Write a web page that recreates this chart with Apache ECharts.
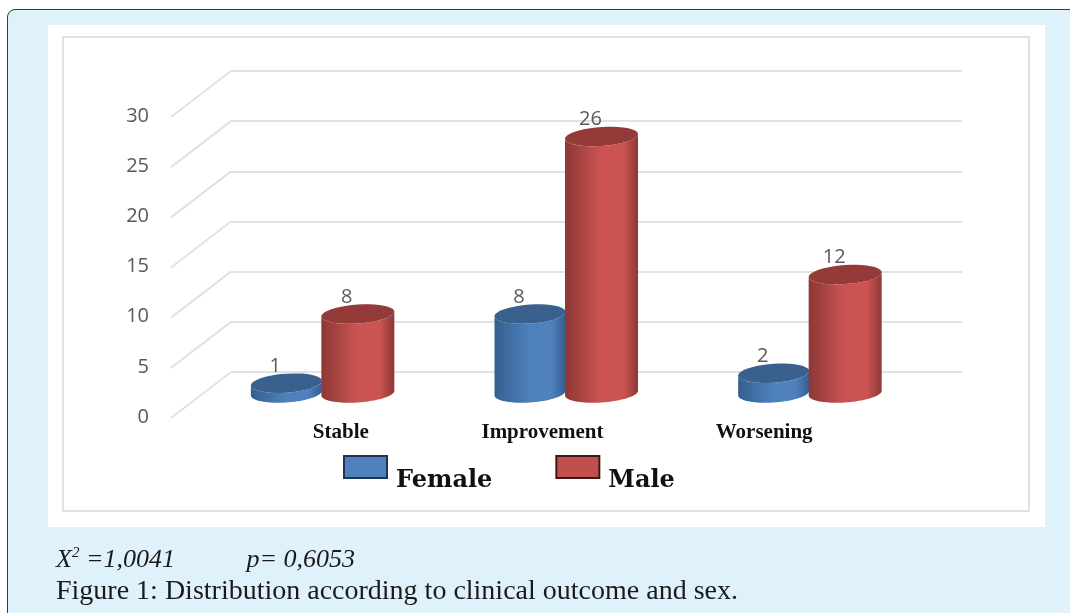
<!DOCTYPE html>
<html>
<head>
<meta charset="UTF-8">
<title>Figure 1</title>
<style type="text/css">
    html, body { margin:0; padding:0; width:1070px; height:613px; overflow:hidden; background:#fff; }
    #panel { position:absolute; left:7px; top:9px; width:1080px; height:640px; background:#dff1fb; border:1.5px solid #3a3a3a; border-radius:8px; box-sizing:border-box; }
    #sheet { position:absolute; left:48px; top:25px; width:997px; height:502px; background:#fff; }
    #frame { position:absolute; left:62px; top:36px; width:968px; height:476px; border:2px solid #e2e2e2; box-sizing:border-box; }
    #main1 { position:absolute; left:0; top:0; width:1070px; height:613px; }
    .note { position:absolute; left:56px; font-family:"Liberation Serif",serif; color:#1a1a1a; white-space:pre; }
    #stat { top:544px; font-size:26px; font-style:italic; }
    #stat sup { font-size:15px; line-height:0; }
    #caption { top:574px; font-size:28px; }
</style>
</head>
<body>
<div id="panel"></div>
<div id="sheet"></div>
<div id="frame"></div>
<div id="main1"></div>
<div class="note" id="stat">X<sup>2</sup> =1,0041           p= 0,6053</div>
<div class="note" id="caption">Figure 1: Distribution according to clinical outcome and sex.</div>
<script type="text/javascript" src="https://cdn.jsdelivr.net/npm/echarts@6/dist/echarts.min.js"></script>
<script type="text/javascript">
    var categories = ['Stable', 'Improvement', 'Worsening'];
    var female = [1, 8, 2];
    var male = [8, 26, 12];
    var yTicks = [0, 5, 10, 15, 20, 25, 30];

    // the labels do not sit under their bars in the picture, so each one is nudged with rich padding
    var labelStyles = {
        Stable: { padding: [0, 0, 0, 38] },
        Improvement: { padding: [0, 46, 0, 0] },
        Worsening: { padding: [0, 90, 0, 0] }
    };
    var richStyles = {};
    categories.forEach(function (c) {
        richStyles[c] = {
            padding: labelStyles[c].padding,
            fontFamily: 'Liberation Serif',
            fontWeight: 'bold',
            fontSize: 21,
            color: '#111'
        };
    });

    function ellipsePoints(cx, cy, rx, ry, from, to) {
        var pts = [];
        for (var i = 0; i <= 40; i++) {
            var t = from + (to - from) * i / 40;
            var dx = rx * Math.cos(t);
            pts.push([cx + dx, cy + ry * Math.sin(t) - dx * 0.065]);
        }
        return pts;
    }

    function cylinder(side, rx, edge, mid, topColor) {
        return function (params, api) {
            var base = api.coord([api.value(0), 0]);
            var top = api.coord([api.value(0), api.value(1)]);
            var cx = base[0] + side;
            var ry = 9.5;
            var body = ellipsePoints(cx, base[1], rx, ry, Math.PI, 0).concat(ellipsePoints(cx, top[1], rx, ry, 0, Math.PI));
            return {
                type: 'group',
                children: [{
                    type: 'polygon',
                    shape: { points: body },
                    style: {
                        fill: new echarts.graphic.LinearGradient(0, 0, 1, 0, [
                            { offset: 0, color: edge },
                            { offset: 0.5, color: mid },
                            { offset: 0.8, color: mid },
                            { offset: 1, color: edge }
                        ])
                    }
                }, {
                    type: 'polygon',
                    shape: { points: ellipsePoints(cx, top[1], rx, ry, 0, Math.PI * 2) },
                    style: { fill: topColor }
                }, {
                    type: 'text',
                    style: {
                        text: String(api.value(1)),
                        x: cx - 11,
                        y: top[1] - 17,
                        align: 'center',
                        verticalAlign: 'middle',
                        fill: '#595959',
                        font: '20px "Open Sans"'
                    }
                }]
            };
        };
    }

    var myChart1 = echarts.init(document.getElementById('main1'), null, { renderer: 'canvas' });
    var option1 = {
        animation: false,
        backgroundColor: 'transparent',
        legend: {
            data: ['Female', 'Male'],
            left: 338,
            top: 435,
            itemWidth: 43,
            itemHeight: 22,
            itemGap: 63,
            icon: 'rect',
            selectedMode: false,
            // blank first line pushes the name below the swatch's centre, as in the picture
            formatter: function (name) { return ' \n' + name; },
            textStyle: {
                fontFamily: 'DejaVu Serif',
                fontWeight: 'bold',
                fontSize: 24,
                lineHeight: 27,
                color: '#111',
                padding: [0, 0, 0, 4]
            }
        },
        grid: [
            { left: 231, top: 71, width: 731, height: 301 },   // back wall
            { left: 172, top: 116, width: 731, height: 301 },  // front edge, carries the y labels
            { left: 200, top: 97, width: 731, height: 296 }    // plane the cylinders stand on
        ],
        xAxis: [
            { gridIndex: 0, type: 'value', min: 0, max: 1, show: false },
            { gridIndex: 1, type: 'value', min: 0, max: 1, show: false },
            {
                gridIndex: 2,
                type: 'category',
                data: categories,
                axisLine: { show: false },
                axisTick: { show: false },
                axisLabel: {
                    margin: 29,
                    formatter: function (v) { return '{' + v + '|' + v + '}'; },
                    rich: richStyles
                }
            }
        ],
        yAxis: [
            {
                gridIndex: 0, type: 'value', min: 0, max: 30, interval: 5,
                axisLine: { show: false }, axisTick: { show: false }, axisLabel: { show: false },
                splitLine: { lineStyle: { color: '#e2e2e2', width: 2 } }
            },
            {
                gridIndex: 1, type: 'value', min: 0, max: 30, interval: 5,
                axisLine: { show: false }, axisTick: { show: false }, splitLine: { show: false },
                axisLabel: { margin: 23, color: '#595959', fontFamily: 'Open Sans', fontSize: 20 }
            },
            { gridIndex: 2, type: 'value', min: 0, max: 30, show: false }
        ],
        series: [
            {
                // receding floor/wall edges
                type: 'custom',
                xAxisIndex: 0,
                yAxisIndex: 0,
                silent: true,
                data: yTicks.map(function (v) { return [0, v]; }),
                renderItem: function (params, api) {
                    var p = api.coord([0, api.value(1)]);
                    return {
                        type: 'line',
                        shape: { x1: p[0], y1: p[1], x2: p[0] - 60, y2: p[1] + 46 },
                        style: { stroke: '#e2e2e2', lineWidth: 2 }
                    };
                }
            },
            {
                // empty series so the front axis gets drawn
                type: 'line',
                xAxisIndex: 1,
                yAxisIndex: 1,
                data: [],
                silent: true
            },
            {
                name: 'Female',
                type: 'custom',
                xAxisIndex: 2,
                yAxisIndex: 2,
                itemStyle: { color: '#4f81bd', borderColor: '#1f3450', borderWidth: 2.5 },
                data: female.map(function (v, i) { return [i, v]; }),
                clip: false,
                renderItem: cylinder(-35.5, 35.5, '#34608f', '#4f81bd', '#3a618e')
            },
            {
                name: 'Male',
                type: 'custom',
                xAxisIndex: 2,
                yAxisIndex: 2,
                itemStyle: { color: '#c0504d', borderColor: '#3f1715', borderWidth: 2.5 },
                data: male.map(function (v, i) { return [i, v]; }),
                clip: false,
                renderItem: cylinder(36, 36.5, '#8c3836', '#cb5452', '#943a38')
            }
        ]
    };
    myChart1.setOption(option1);
</script>
</body>
</html>
